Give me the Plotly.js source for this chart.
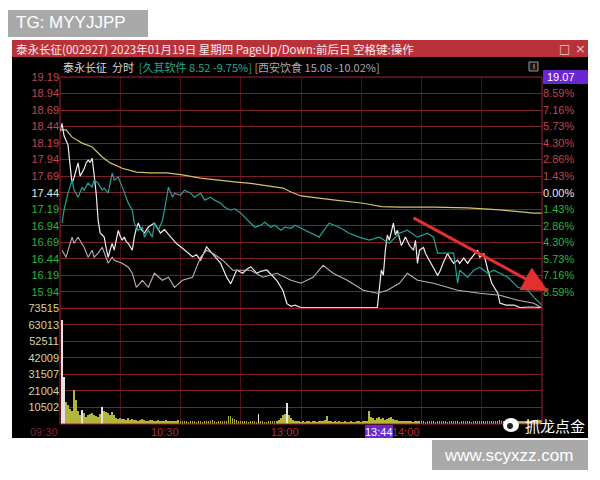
<!DOCTYPE html>
<html><head><meta charset="utf-8">
<script src="https://cdn.plot.ly/plotly-3.0.1.min.js"></script>
<style>html,body{margin:0;padding:0;background:#fff}#c{width:600px;height:480px}</style>
</head><body><div id="c"></div>
<script>
// ---------- data ----------
const prevClose = 17.44;
const priceTicks = [19.19,18.94,18.69,18.44,18.19,17.94,17.69,17.44,17.19,16.94,16.69,16.44,16.19,15.94,15.69];
const priceTickText = ['19.19','18.94','18.69','18.44','18.19','17.94','17.69','17.44','17.19','16.94','16.69','16.44','16.19','15.94',''];
const pctTickText = ['','8.59%','7.16%','5.73%','4.30%','2.86%','1.43%','0.00%','1.43%','2.86%','4.30%','5.73%','7.16%','8.59%',''];
const volTicks = [73515,63013,52511,42009,31507,21004,10502];
const amountTickText = ['1.3亿','1.1亿','9504万','7604万','5703万','3802万','1901万'];
const timeGrid = [0,30,60,90,120,150,180,210,240];
const timeLabelPos = [0,60,120,180];
const timeLabelText = ['09:30','10:30','13:00','14:00'];

// 泰永长征 price (minute index, price)
const taiyongPrice = [[0,18.36],[1,18.49],[2,18.30],[3,18.24],[4,18.16],[5,17.86],[6,17.58],[7,17.67],[8,17.78],[9,17.89],
 [10,17.69],[11,17.74],[12,17.80],[13,17.89],[14,17.93],[15,17.90],[16,17.96],[17,17.71],[18,17.43],[19,17.02],
 [20,16.83],[21,16.80],[22,16.77],[23,16.60],[24,16.46],[25,16.58],[26,16.67],[27,16.57],[28,16.75],[29,16.87],
 [30,16.78],[31,16.72],[32,16.77],[33,16.70],[34,16.67],[35,16.62],[36,16.57],[37,16.77],[38,16.90],[39,16.98],
 [40,16.90],[42,16.83],[44,16.92],[47,16.98],[50,16.83],[52,16.88],[55,16.77],[58,16.67],[61,16.60],[63,16.55],
 [66,16.47],[68,16.50],[70,16.42],[73,16.62],[76,16.52],[78,16.45],[80,16.37],[83,16.16],[85,16.06],[88,16.27],
 [91,16.22],[93,16.28],[95,16.32],[98,16.22],[100,16.25],[103,16.27],[105,16.20],[108,16.11],[111,15.96],[113,15.76],
 [115,15.72],[117,15.74],[120,15.70],[130,15.70],[140,15.70],[150,15.70],[158,15.70],[160,16.27],[161,16.19],[162,16.57],
 [163,16.80],[164,16.72],[166,16.98],[167,16.80],[168,16.87],[170,16.64],[171,16.72],[172,16.77],[174,16.64],[176,16.57],
 [177,16.72],[178,16.37],[179,16.57],[181,16.61],[182,16.52],[184,16.42],[186,16.30],[188,16.19],[189,16.24],[191,16.39],
 [193,16.52],[194,16.46],[196,16.37],[198,16.42],[199,16.37],[201,16.45],[203,16.37],[204,16.42],[206,16.49],[208,16.57],
 [209,16.46],[211,16.52],[213,16.27],[215,16.07],[218,15.92],[219,15.77],[222,15.74],[226,15.74],[229,15.70],[234,15.71],[240,15.70]];

// 泰永长征 average price
const avgPrice = [[0,18.39],[3,18.39],[6,18.28],[11,18.19],[16,18.13],[21,17.98],[25,17.89],[31,17.81],[38,17.75],[45,17.74],
 [53,17.74],[61,17.71],[70,17.66],[78,17.63],[88,17.60],[95,17.58],[103,17.55],[111,17.51],[115,17.45],[120,17.39],
 [136,17.33],[151,17.28],[160,17.23],[169,17.22],[186,17.22],[203,17.21],[219,17.18],[236,17.13],[240,17.13]];

// 久其软件 change % (minute index, %)
const jiuqiPct = [[1,-2.65],[2,-1.52],[4,-0.04],[6,1.09],[7,0.22],[9,-0.39],[11,0.48],[12,0.22],[14,0.83],[16,0.48],
 [17,1.09],[19,0.83],[21,0.22],[22,0.39],[24,-0.04],[26,1.69],[27,1.09],[29,1.35],[31,0.48],[32,-0.04],
 [34,-0.91],[36,-1.52],[37,-2.65],[39,-3.26],[41,-3.00],[42,-3.86],[44,-3.26],[46,-3.86],[47,-2.65],[49,-3.26],
 [51,-2.39],[52,-1.52],[54,0.48],[56,-0.39],[57,-0.04],[60,-0.22],[62,0.22],[65,-0.04],[67,-0.39],[70,-0.04],
 [72,-0.65],[75,-0.39],[77,-0.65],[80,-0.91],[82,-1.26],[85,-1.52],[87,-1.40],[90,-1.78],[92,-2.13],[95,-2.65],
 [97,-3.00],[100,-2.82],[102,-2.56],[105,-3.00],[107,-2.82],[110,-3.26],[112,-3.00],[115,-3.09],[117,-2.82],[120,-3.09],
 [125,-3.52],[129,-3.86],[134,-2.65],[139,-3.00],[144,-3.52],[149,-3.86],[154,-4.12],[159,-3.86],[164,-4.39],[169,-3.52],
 [173,-3.26],[178,-3.86],[183,-3.52],[186,-3.86],[188,-5.25],[193,-5.25],[196,-5.25],[198,-7.86],[199,-6.73],[203,-7.34],
 [206,-6.73],[209,-6.47],[213,-6.99],[216,-6.73],[219,-6.99],[223,-7.34],[228,-8.21],[233,-8.47],[236,-9.08],[239,-9.60],[240,-9.75]];

// 西安饮食 change % (minute index, %)
const xianPct = [[1,-4.99],[3,-5.60],[6,-3.86],[7,-4.39],[9,-3.86],[11,-4.39],[12,-4.73],[14,-5.60],[16,-4.99],[17,-5.60],
 [19,-5.25],[21,-4.73],[22,-5.25],[24,-6.12],[26,-5.60],[27,-5.86],[31,-6.12],[34,-6.47],[36,-6.99],[38,-8.21],
 [41,-7.60],[44,-8.21],[47,-6.99],[51,-7.60],[54,-7.34],[57,-8.21],[61,-7.60],[66,-7.34],[70,-5.60],[73,-4.99],
 [76,-5.25],[81,-5.86],[86,-6.73],[95,-6.73],[101,-7.34],[108,-6.99],[115,-7.60],[120,-7.86],[126,-7.34],[131,-6.30],
 [136,-6.99],[143,-7.60],[151,-8.47],[158,-8.73],[163,-8.47],[169,-7.86],[173,-6.99],[178,-7.60],[186,-7.86],[198,-8.47],
 [209,-8.73],[219,-8.90],[228,-9.34],[236,-9.60],[240,-10.02]];

// volume per minute (shares)
const volume = [66000,30000,13700,12000,9500,8000,21300,15000,8000,6000,
 9000,7000,4500,5500,6500,7000,5800,5000,4500,6500,
 11000,8500,7500,7000,5500,7500,5500,4000,3000,3500,
 3000,3200,2800,3500,2600,3000,2400,2800,2200,2500,
 3000,2600,2200,2000,2400,2800,2100,1900,2300,2000,
 1800,2200,2500,2000,1700,1900,2100,1800,2300,2000,
 1600,1800,2000,1500,1700,1900,1600,1400,1800,2200,
 1500,1700,1900,1600,2000,2400,1800,1500,1700,1900,
 1600,2100,1800,5200,4800,4000,3200,2500,2000,1800,
 2200,1700,1900,1500,1600,2000,1800,1500,6500,1600,
 1800,1500,1400,1700,1900,1600,1800,2000,2600,3500,
 5500,6500,13500,6000,3500,2500,1800,1600,2000,1500,
 1700,1400,1800,1600,1500,1900,1700,1500,1800,1600,
 2200,2800,5000,2000,1600,1500,1800,1400,1600,1500,
 1300,1700,1500,1400,1600,1500,1400,1800,1600,1500,
 1700,1900,2100,8000,4500,3800,2800,3500,4200,3000,
 3600,2500,3200,4000,4600,3000,2400,2800,2200,1900,
 1800,2000,1700,1600,1900,1500,1800,1700,1600,2000,
 1700,1500,1800,1600,1900,1700,1500,1800,1600,1700,
 1900,1600,1500,1800,1700,1600,2000,1800,1500,1700,
 1900,1600,1800,1700,1500,1900,2100,1700,1600,1800,
 2000,1700,1900,1600,1800,2200,1900,1700,2400,2000,
 1800,1700,1900,2100,1800,1600,2000,1900,1700,2200,
 2000,1800,2300,2100,1900,2500,2200,2000,2600,2400,
 3000];
const whiteVolumeBars = [0,1,10,20,98,112];

// ---------- layout helpers ----------
const L = 60, R = 542, T = 77, B = 424;
const W = 600, H = 480;
const px = x => (x - L) / (R - L);
const py = y => (B - y) / (B - T);
function rect(x0,y0,x1,y1,fill,line){
  return {type:'rect',xref:'paper',yref:'paper',x0:px(x0),x1:px(x1),y0:py(y1),y1:py(y0),
    fillcolor:fill,line:line||{width:0},layer:'below'};
}
function txt(t,x,y,opt){
  return Object.assign({xref:'paper',yref:'paper',x:px(x),y:py(y),text:t,showarrow:false,
    xanchor:'left',yanchor:'middle',font:{family:'Liberation Sans, Arial',size:11,color:'#fff'}},opt||{});
}

const RED = '#c24452', GREEN = '#2fb43a', WHITE = '#e6e6e6', VOLC = '#d6d69a';
const colorFor = (p) => p > prevClose + 1e-9 ? RED : (p < prevClose - 1e-9 ? GREEN : WHITE);
const leftPriceText = priceTicks.map((p,i) => priceTickText[i] ? `<span style="color:${colorFor(p)}">${priceTickText[i]}</span>` : '');
const rightPctText = priceTicks.map((p,i) => pctTickText[i] ? `<span style="color:${colorFor(p)}">${pctTickText[i]}</span>` : '');
const pctOf = p => (p - prevClose) / prevClose * 100;

const minutes = volume.map((_,i) => i);
const volColors = volume.map((_,i) => whiteVolumeBars.includes(i) ? '#e4e4e4' : '#b4b43c');

const traces = [
  {type:'bar',x:minutes,y:volume,xaxis:'x',yaxis:'y2',marker:{color:volColors,line:{width:0}},width:0.8,offset:0.5,hoverinfo:'skip'},
  {type:'scatter',mode:'lines',x:xianPct.map(d=>d[0]),y:xianPct.map(d=>d[1]),xaxis:'x',yaxis:'y3',
    line:{color:'#bfadb7',width:1.1},hoverinfo:'skip'},
  {type:'scatter',mode:'lines',x:jiuqiPct.map(d=>d[0]),y:jiuqiPct.map(d=>d[1]),xaxis:'x',yaxis:'y3',
    line:{color:'#23a397',width:1.2},hoverinfo:'skip'},
  {type:'scatter',mode:'lines',x:avgPrice.map(d=>d[0]),y:avgPrice.map(d=>d[1]),xaxis:'x',yaxis:'y',
    line:{color:'#cfc56a',width:1.2},hoverinfo:'skip'},
  {type:'scatter',mode:'lines',x:taiyongPrice.map(d=>d[0]),y:taiyongPrice.map(d=>d[1]),xaxis:'x',yaxis:'y',
    line:{color:'#eeeeee',width:1.2},hoverinfo:'skip'}
];

const priceRange = [15.69, 19.19];
const GRIDH = '#7c1f2c', GRIDV = '#4e1218';

const layout = {
  width:W,height:H,
  margin:{l:L,r:W-R,t:T,b:H-B,pad:0},
  paper_bgcolor:'#ffffff',plot_bgcolor:'#000000',
  showlegend:false,
  xaxis:{domain:[0,1],range:[0,240],anchor:'y2',tickvals:timeGrid,showticklabels:false,ticks:'',
    showgrid:true,gridcolor:GRIDV,gridwidth:1,zeroline:false,showline:false,fixedrange:true},
  yaxis:{domain:[1/3,1],range:priceRange,tickvals:priceTicks,ticktext:leftPriceText,ticks:'',
    showgrid:true,gridcolor:GRIDH,gridwidth:1,zeroline:false,showline:false,
    tickfont:{family:'Liberation Sans, Arial',size:11,color:RED}},
  yaxis2:{domain:[0,1/3],range:[0,73515],tickvals:volTicks,ticktext:volTicks.map(String),ticks:'',
    showgrid:true,gridcolor:GRIDH,gridwidth:1,zeroline:false,showline:false,
    tickfont:{family:'Liberation Sans, Arial',size:11,color:VOLC}},
  yaxis3:{overlaying:'y',side:'right',anchor:'x',range:priceRange.map(pctOf),tickvals:priceTicks.map(pctOf),
    ticktext:rightPctText,ticks:'',showgrid:false,zeroline:false,showline:false,
    tickfont:{family:'Liberation Sans, Arial',size:11,color:RED}},
  yaxis4:{overlaying:'y2',side:'right',anchor:'x',range:[0,73515],tickvals:volTicks,ticktext:amountTickText,ticks:'',
    showgrid:false,zeroline:false,showline:false,
    tickfont:{family:'Liberation Sans, "Noto Sans CJK SC"',size:11,color:VOLC}},
  bargap:0,
  shapes:[
    rect(12,57,588,438,'#000000'),
    rect(12,40,588,57,'#b8323a'),
    rect(8,10,148,37,'#a9a9a9'),
    rect(432,440,588,470,'#a9a9a9'),
    {type:'rect',xref:'paper',yref:'paper',x0:0,x1:1,y0:0,y1:1,line:{color:'#a8223a',width:1},layer:'above'},
    {type:'line',xref:'paper',yref:'paper',x0:0,x1:1,y0:1/3,y1:1/3,line:{color:'#a8223a',width:1},layer:'above'},
    rect(543,70,588,84,'#6a26d0'),
    rect(365,425,393,438,'#6a26d0'),
    {type:'rect',xref:'paper',yref:'paper',x0:px(529),x1:px(538),y0:py(71),y1:py(62),line:{color:'#9a9a9a',width:1},fillcolor:'#1a1a1a',layer:'above'},
    {type:'circle',xref:'paper',yref:'paper',x0:px(503),x1:px(519),y0:py(432),y1:py(418),fillcolor:'#ffffff',line:{width:0},layer:'above'},
    {type:'circle',xref:'paper',yref:'paper',x0:px(507),x1:px(513),y0:py(429),y1:py(423),fillcolor:'#222',line:{width:0},layer:'above'}
  ],
  annotations:[
    txt('TG: MYYJJPP',14,23,{font:{family:'Liberation Sans, Arial',size:17,color:'#ffffff'}}),
    txt('www.scyxzz.com',442,455,{font:{family:'Liberation Sans, Arial',size:17,color:'#ffffff'}}),
    txt('泰永长征(002927) 2023年01月19日 星期四 PageUp/Down:前后日 空格键:操作',14,48.5,
      {font:{family:'"Noto Sans CJK SC"',size:11.5,color:'#ffe8e8'}}),
    txt('□',557,48.5,{font:{family:'DejaVu Sans',size:12,color:'#e8c8c8'}}),
    txt('×',573,48.5,{font:{family:'DejaVu Sans',size:13,color:'#e8c8c8'}}),
    txt('泰永长征  分时  <span style="color:#22a890">[久其软件 8.52 -9.75%]</span> <span style="color:#a8a8a8">[西安饮食 15.08 -10.02%]</span>',
      61,67,{font:{family:'"Noto Sans CJK SC"',size:11,color:'#d8d8d8'}}),
    txt('i',533.5,66.5,{xanchor:'center',font:{family:'Liberation Sans',size:8,color:'#cfcfcf'}}),
    txt('19.07',545,77,{font:{family:'Liberation Sans, Arial',size:11,color:'#ffffff'}}),
    txt('13:44',379,431.5,{xanchor:'center',font:{family:'Liberation Sans, Arial',size:11,color:'#ffffff'}}),
    txt('抓龙点金',523,425,{font:{family:'"Noto Sans CJK SC"',size:15,color:'#ffffff'}}),
    {xref:'paper',yref:'paper',x:px(548),y:py(291),ax:-136,ay:-74,showarrow:true,arrowhead:2,arrowsize:1.7,
     arrowwidth:3,arrowcolor:'#e2302c',text:''}
  ].concat(timeLabelPos.map((m,i)=>({xref:'x',yref:'paper',x:m,y:py(431.5),text:timeLabelText[i],showarrow:false,
     xanchor:'right',yanchor:'middle',font:{family:'Liberation Sans, Arial',size:11,color:i===0?'#8a2030':'#b52a38'}})))
};

Plotly.newPlot('c', traces, layout, {staticPlot:true, displayModeBar:false});
</script>
</body></html>
